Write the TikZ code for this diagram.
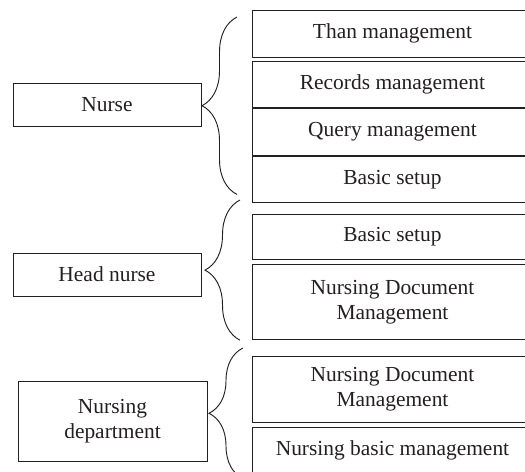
\documentclass[tikz,border=0pt]{standalone}
\usepackage{fontspec}
\setmainfont{Liberation Serif}
\usetikzlibrary{positioning,decorations.pathreplacing}
\definecolor{ink}{HTML}{231F20}
\tikzset{
        rolebox/.style={draw=ink, rectangle, line width=0.8pt, minimum width=5.64cm, minimum height=1.29cm, align=center, text=ink, font=\fontsize{18.3}{21.5}\selectfont},
        taskbox/.style={draw=ink, rectangle, line width=0.8pt, anchor=north west, minimum width=8.4cm, minimum height=1.4cm, align=center, text=ink, font=\fontsize{18.3}{21.5}\selectfont},
        curly/.style={draw=ink, line width=0.8pt, decorate, decoration={brace, amplitude=1.05cm}},
    }

\begin{document}
\begin{tikzpicture}[node distance=0.09cm]

        \useasboundingbox (0,0) rectangle (15.75,-14.13);
        \clip (0,0) rectangle (15.75,-14.13);

        % Roles
        \node[rolebox] (nurse) at (3.21, -3.135) {Nurse};
        \node[rolebox] (headnurse) at (3.21, -8.235) {Head nurse};
        \node[rolebox, minimum width=5.67cm, minimum height=2.4cm] (department) at (3.375, -12.63) {Nursing\\department};

        % Nurse tasks
        \node[taskbox] (than) at (7.56, -0.3) {Than management};
        \node[taskbox, below=of than] (records) {Records management};
        \node[taskbox, below=0cm of records] (query) {Query management};
        \node[taskbox, below=0cm of query] (nbasic) {Basic setup};

        % Head nurse tasks
        \node[taskbox, minimum height=1.36cm] (hbasic) at (7.56, -6.42) {Basic setup};
        \node[taskbox, minimum height=2.25cm, below=0.12cm of hbasic] (hdoc) {Nursing Document\\Management};

        % Department tasks
        \node[taskbox, minimum height=1.98cm] (ddoc) at (7.56, -10.68) {Nursing Document\\Management};
        \node[taskbox, below=0.12cm of ddoc] (dbasic) {Nursing basic management};

        % Braces
        \draw[curly] ([shift={(-0.45,0.27)}]nbasic.south west) -- ([shift={(-0.45,-0.21)}]than.north west);
        \draw[curly] ([shift={(-0.36,0)}]hdoc.south west) -- ([shift={(-0.36,0.42)}]hbasic.north west);
        \draw[curly, decoration={amplitude=1.02cm}] ([shift={(-0.27,-0.12)}]dbasic.south west) -- ([shift={(-0.27,0.24)}]ddoc.north west);

    \end{tikzpicture}
\end{document}
